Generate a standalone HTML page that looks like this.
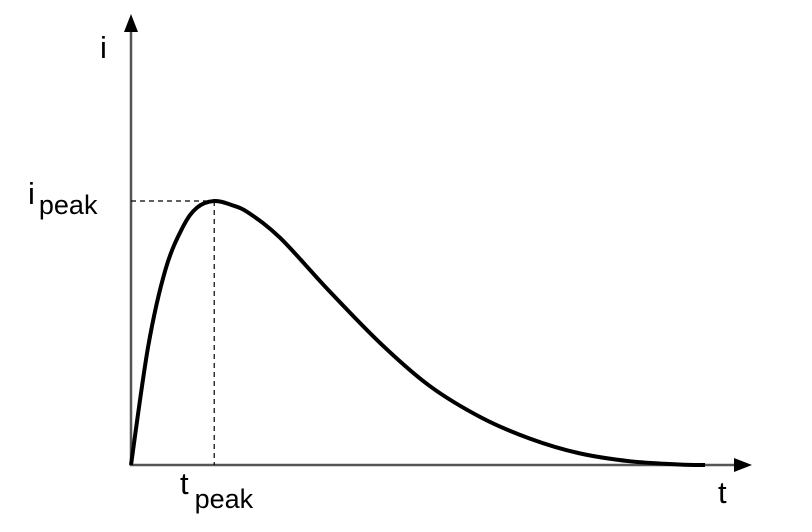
<!DOCTYPE html>
<html><head><meta charset="utf-8"><style>
html,body{margin:0;padding:0;background:#fff;}
svg{display:block;font-family:"Liberation Sans",Arial,sans-serif;}
</style></head><body>
<svg id="chart" width="812" height="532" viewBox="0 0 812 532">
<g id="axes">
<line x1="131" y1="466" x2="131" y2="28" stroke="#555" stroke-width="2.5"/>
<polygon points="131,14 124,32 138,32" fill="#000"/>
<line x1="130" y1="465" x2="738" y2="465" stroke="#555" stroke-width="2.5"/>
<polygon points="752,465 734,458 734,472" fill="#000"/>
</g>
<text x="100" y="58" font-size="31">i</text>
<text x="718" y="503" font-size="31">t</text>
<text x="28" y="204" font-size="31">i<tspan font-size="27" dx="4" dy="10">peak</tspan></text>
<text x="180" y="494" font-size="31">t<tspan font-size="27" dx="6" dy="14">peak</tspan></text>
<g id="marks"></g>
</svg>
<script>
const tValues=[0,0.3,0.6,0.9,1.15,1.45,1.75,2.05,2.6,3.45,4.35,5.2,6.1,6.95,7.8,8.7,9.55,10];
const iValues=[0,0.45,0.74,0.9,0.975,1.0,0.985,0.955,0.86,0.66,0.46,0.3,0.18,0.1,0.045,0.014,0.002,0];
const peakT=1.45, peakI=1.0;
const x=t=>131+t*57.4;
const y=v=>465-v*264;
const ns="http://www.w3.org/2000/svg";
const g=document.getElementById('marks');
const pts=tValues.map((t,k)=>[x(t),y(iValues[k])]);
let d="M"+pts[0][0]+","+pts[0][1];
for(let k=0;k<pts.length-1;k++){
  const p0=pts[Math.max(k-1,0)],p1=pts[k],p2=pts[k+1],p3=pts[Math.min(k+2,pts.length-1)];
  const c1=[p1[0]+(p2[0]-p0[0])/6,p1[1]+(p2[1]-p0[1])/6];
  const c2=[p2[0]-(p3[0]-p1[0])/6,p2[1]-(p3[1]-p1[1])/6];
  d+=" C"+c1+" "+c2+" "+p2;
}
const h=document.createElementNS(ns,'line');


h.setAttribute('x1',131);h.setAttribute('y1',y(peakI));h.setAttribute('x2',x(peakT));h.setAttribute('y2',y(peakI));
h.setAttribute('stroke','#000');h.setAttribute('stroke-width','1.2');h.setAttribute('stroke-dasharray','5,4');
g.appendChild(h);
const v=document.createElementNS(ns,'line');


v.setAttribute('x1',x(peakT));v.setAttribute('y1',y(peakI));v.setAttribute('x2',x(peakT));v.setAttribute('y2',465);
v.setAttribute('stroke','#000');v.setAttribute('stroke-width','1.2');v.setAttribute('stroke-dasharray','5,4');
g.appendChild(v);
const p=document.createElementNS(ns,'path');


p.setAttribute('d',d);p.setAttribute('fill','none');p.setAttribute('stroke','#000');p.setAttribute('stroke-width','4');
g.appendChild(p);
</script>
</body></html>
